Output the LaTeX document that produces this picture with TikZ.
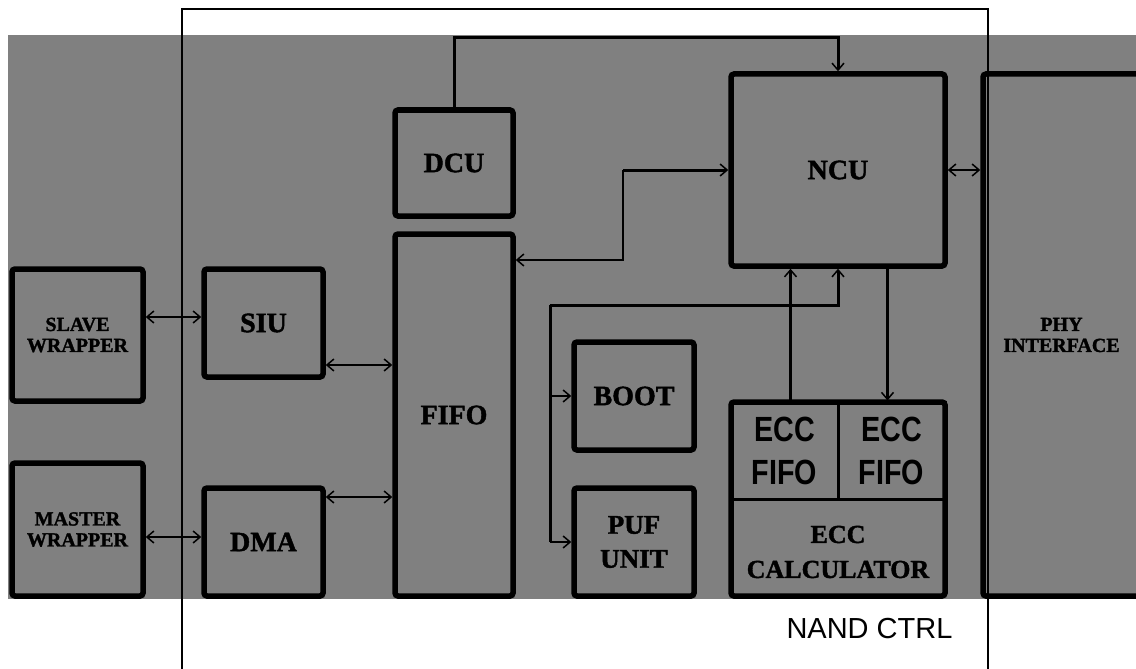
\documentclass[tikz,border=0pt]{standalone}
\usepackage{fontspec}
\setmainfont{Liberation Serif}[BoldFeatures={FakeBold=1.5}]
\newfontfamily\sansf{Liberation Sans}
\newfontfamily\sansnarrow[FakeStretch=0.82]{Liberation Sans}
\usetikzlibrary{arrows.meta}
\definecolor{bggray}{RGB}{128,128,128}
\begin{document}
\begin{tikzpicture}[x=1pt,y=-1pt,
  blk/.style={draw=black, line width=5.5pt, rounded corners=3pt, inner sep=0pt, align=center,
    font=\fontsize{28}{30}\selectfont\bfseries},
  smallblk/.style={blk, font=\fontsize{20}{21}\selectfont\bfseries},
  cell/.style={draw=black, line width=3pt, inner sep=0pt, align=center},
  conn/.style={draw=black, line width=3pt},
  thinconn/.style={draw=black, line width=1.6pt},
  arr/.style={draw=black, line width=2.5pt, -{Straight Barb[length=7pt,width=12pt,line width=1.5pt]}},
  dbl/.style={draw=black, line width=2.5pt, {Straight Barb[length=7pt,width=12pt,line width=1.5pt]}-{Straight Barb[length=7pt,width=12pt,line width=1.5pt]}}
]
\clip (0,0) rectangle (1136,669);
\fill[white] (0,0) rectangle (1136,669);
\fill[bggray] (8,35) rectangle (1136,599);

% blocks
\node[smallblk, minimum width=131pt, minimum height=132pt] (slave) at (77.5,335) {SLAVE\\WRAPPER};
\node[smallblk, minimum width=131pt, minimum height=133pt] (master) at (77.5,529.5) {MASTER\\WRAPPER};
\node[blk, minimum width=119pt, minimum height=108pt] (siu) at (263.5,323) {SIU};
\node[blk, minimum width=119pt, minimum height=108pt] (dma) at (263.5,542) {DMA};
\node[blk, minimum width=118pt, minimum height=106pt] (dcu) at (454,163) {DCU};
\node[blk, minimum width=118pt, minimum height=362pt] (fifo) at (454,415) {FIFO};
\node[blk, minimum width=214pt, minimum height=192pt] (ncu) at (838,170) {NCU};
\node[blk, minimum width=120pt, minimum height=108pt] (boot) at (634,396) {BOOT};
\node[blk, minimum width=120pt, minimum height=108pt, font=\fontsize{27}{34}\selectfont\bfseries] (puf) at (634,542) {PUF\\UNIT};
\node[smallblk, minimum width=157pt, minimum height=522pt] (phy) at (1061.5,335) {PHY\\INTERFACE};

% ECC group
\node[cell, minimum width=107pt, minimum height=97pt, font=\sansnarrow\fontsize{35}{43}\selectfont\bfseries] (eccf1) at (784.5,450.5) {ECC\\FIFO};
\node[cell, minimum width=107pt, minimum height=97pt, font=\sansnarrow\fontsize{35}{43}\selectfont\bfseries] (eccf2) at (891.5,450.5) {ECC\\FIFO};
\node[inner sep=0pt, align=center, font=\fontsize{26}{35}\selectfont\bfseries] (calc) at (838,552) {ECC\\CALCULATOR};
\node[blk, minimum width=214pt, minimum height=194pt] (ecc) at (838,499) {};

% connectors
\coordinate (topline) at (0,38);
\draw[conn, -{Straight Barb[length=7pt,width=12pt,line width=1.5pt]}] (dcu.north) |- (topline -| ncu.north) -- (ncu.north);

\coordinate (j1) at (623,170);
\coordinate (j2) at (623,260);
\draw[arr, line width=3pt] (j1) -- (ncu.west);
\draw[thinconn, -{Straight Barb[length=7pt,width=12pt,line width=1.5pt]}] (j1) -- (j2) -- (j2 -| fifo.east);

\draw[dbl] (ncu.east) -- (ncu.east -| phy.west);

\coordinate (a1) at ([yshift=18pt]slave.east);
\draw[dbl] (a1) -- (a1 -| siu.west);
\coordinate (a2) at ([yshift=-7.5pt]master.east);
\draw[dbl] (a2) -- (a2 -| dma.west);
\coordinate (a3) at ([yshift=-42pt]siu.east);
\draw[dbl] (a3) -- (a3 -| fifo.west);
\coordinate (a4) at ([yshift=45pt]dma.east);
\draw[dbl] (a4) -- (a4 -| fifo.west);

\coordinate (k1) at (838,305);
\coordinate (k2) at (550,305);
\draw[conn, -{Straight Barb[length=7pt,width=12pt,line width=1.5pt]}] (k2) -- (k1) -- (ncu.south);
\draw[conn] (k2) -- (k2 |- puf.west);
\draw[arr] (k2 |- boot.west) -- (boot.west);
\draw[arr] (k2 |- puf.west) -- (puf.west);

\coordinate (u1) at ([xshift=6pt]eccf1.north);
\draw[arr, line width=3pt] (u1) -- (u1 |- ncu.south);
\coordinate (d1) at ([xshift=-4pt]eccf2.north);
\draw[arr, line width=3pt] (d1 |- ncu.south) -- (d1);

% NAND CTRL frame
\draw[line width=2pt] (182,669) -- (182,9) -- (988,9) -- (988,669);
\node[font=\sansf\fontsize{29}{30}\selectfont, anchor=base, inner sep=0pt] (nand) at (869.5,638) {NAND CTRL};
\end{tikzpicture}
\end{document}
